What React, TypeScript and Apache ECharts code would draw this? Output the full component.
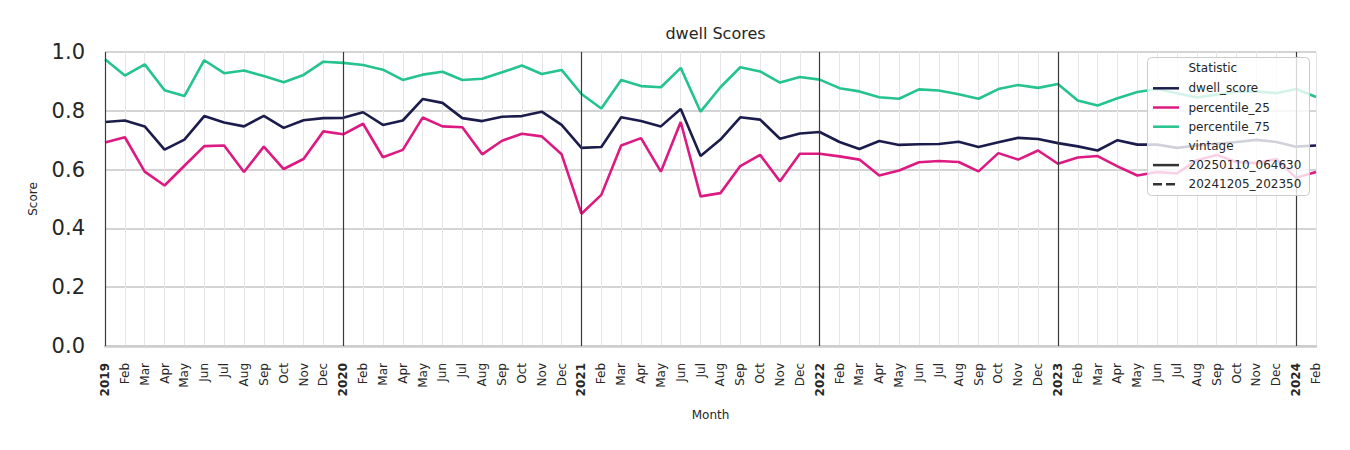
import React, { useEffect, useRef } from "react";
import * as echarts from "echarts";

const months = [
  "2019-01","2019-02","2019-03","2019-04","2019-05","2019-06","2019-07","2019-08","2019-09","2019-10","2019-11","2019-12",
  "2020-01","2020-02","2020-03","2020-04","2020-05","2020-06","2020-07","2020-08","2020-09","2020-10","2020-11","2020-12",
  "2021-01","2021-02","2021-03","2021-04","2021-05","2021-06","2021-07","2021-08","2021-09","2021-10","2021-11","2021-12",
  "2022-01","2022-02","2022-03","2022-04","2022-05","2022-06","2022-07","2022-08","2022-09","2022-10","2022-11","2022-12",
  "2023-01","2023-02","2023-03","2023-04","2023-05","2023-06","2023-07","2023-08","2023-09","2023-10","2023-11","2023-12",
  "2024-01","2024-02",
];

const tickLabels = [
  "2019","Feb","Mar","Apr","May","Jun","Jul","Aug","Sep","Oct","Nov","Dec",
  "2020","Feb","Mar","Apr","May","Jun","Jul","Aug","Sep","Oct","Nov","Dec",
  "2021","Feb","Mar","Apr","May","Jun","Jul","Aug","Sep","Oct","Nov","Dec",
  "2022","Feb","Mar","Apr","May","Jun","Jul","Aug","Sep","Oct","Nov","Dec",
  "2023","Feb","Mar","Apr","May","Jun","Jul","Aug","Sep","Oct","Nov","Dec",
  "2024","Feb",
];

const yearIndices = [0, 12, 24, 36, 48, 60];

const dwellScore = [
  0.762,0.767,0.747,0.668,0.702,0.782,0.760,0.747,0.783,0.742,0.768,0.775,
  0.776,0.795,0.752,0.767,0.840,0.827,0.775,0.765,0.780,0.782,0.797,0.752,
  0.674,0.677,0.778,0.765,0.747,0.806,0.646,0.702,0.778,0.770,0.705,0.723,
  0.728,0.694,0.670,0.697,0.684,0.686,0.687,0.695,0.677,0.693,0.708,0.704,
  0.690,0.679,0.665,0.700,0.685,0.685,0.674,0.682,0.688,0.694,0.701,0.694,
  0.678,0.682,
];

const percentile25 = [
  0.692,0.710,0.593,0.546,0.613,0.680,0.682,0.592,0.678,0.602,0.636,0.730,
  0.720,0.756,0.642,0.667,0.777,0.747,0.744,0.652,0.698,0.722,0.713,0.652,
  0.450,0.514,0.682,0.707,0.593,0.762,0.509,0.520,0.612,0.650,0.560,0.654,
  0.654,0.645,0.634,0.580,0.597,0.625,0.629,0.626,0.594,0.656,0.634,0.665,
  0.620,0.641,0.646,0.611,0.580,0.592,0.587,0.632,0.650,0.626,0.622,0.636,
  0.572,0.592,
];

const percentile75 = [
  0.975,0.920,0.958,0.870,0.850,0.972,0.928,0.937,0.918,0.897,0.922,0.967,
  0.963,0.956,0.940,0.905,0.923,0.933,0.905,0.909,0.931,0.954,0.925,0.939,
  0.857,0.808,0.905,0.884,0.880,0.946,0.797,0.880,0.948,0.934,0.896,0.915,
  0.906,0.877,0.866,0.846,0.841,0.873,0.869,0.856,0.841,0.874,0.888,0.878,
  0.891,0.835,0.818,0.843,0.864,0.874,0.860,0.845,0.855,0.865,0.866,0.860,
  0.874,0.847,
];

const statNames = ["dwell_score", "percentile_25", "percentile_75"];
const statColors = ["#1c1c4c", "#dd1a82", "#25c38e"];
const vintageNames = ["20250110_064630", "20241205_202350"];

const FONT = "DejaVu Sans";

export default function App() {
  const ref = useRef<HTMLDivElement>(null);

  useEffect(() => {
    document.body.style.margin = "0";
    if (!ref.current) return;
    const chart = echarts.init(ref.current, undefined, { renderer: "svg" });

    const lx = 1153;
    const tx = 1188.5;
    const rowY = [68.3, 88.3, 107.5, 126.7, 145.9, 165.1, 184.3];
    const legendEls: any[] = [
      {
        type: "rect",
        shape: { x: 1147.5, y: 57.5, width: 162, height: 138, r: 4 },
        style: { fill: "rgba(255,255,255,0.8)", stroke: "#cccccc", lineWidth: 1 },
        z: 100,
      },
      {
        type: "text",
        x: tx,
        y: rowY[0],
        style: { text: "Statistic", fill: "#262626", font: `12px "${FONT}"`, verticalAlign: "middle" },
        z: 101,
      },
    ];
    statNames.forEach((n, i) => {
      legendEls.push({
        type: "line",
        shape: { x1: lx, y1: rowY[i + 1], x2: lx + 26, y2: rowY[i + 1] },
        style: { stroke: statColors[i], lineWidth: 2.5 },
        z: 101,
      });
      legendEls.push({
        type: "text",
        x: tx,
        y: rowY[i + 1],
        style: { text: n, fill: "#262626", font: `12px "${FONT}"`, verticalAlign: "middle" },
        z: 101,
      });
    });
    legendEls.push({
      type: "text",
      x: tx,
      y: rowY[4],
      style: { text: "vintage", fill: "#262626", font: `12px "${FONT}"`, verticalAlign: "middle" },
      z: 101,
    });
    vintageNames.forEach((n, i) => {
      legendEls.push({
        type: "line",
        shape: { x1: lx, y1: rowY[5 + i], x2: lx + 26, y2: rowY[5 + i] },
        style: { stroke: "#333333", lineWidth: 2.5, lineDash: i === 1 ? [9, 4] : null },
        z: 101,
      });
      legendEls.push({
        type: "text",
        x: tx,
        y: rowY[5 + i],
        style: { text: n, fill: "#262626", font: `12px "${FONT}"`, verticalAlign: "middle" },
        z: 101,
      });
    });

    const lineSeries = (name: string, data: number[], color: string) => ({
      name,
      type: "line",
      data,
      showSymbol: false,
      symbol: "none",
      lineStyle: { color, width: 2.6 },
      itemStyle: { color },
      z: 3,
      silent: true,
    });

    chart.setOption({
      animation: false,
      textStyle: { fontFamily: FONT },
      title: {
        text: "dwell Scores",
        left: 710.5,
        top: 20,
        textAlign: "center",
        textStyle: { fontSize: 16, fontWeight: "normal", color: "#262626", fontFamily: FONT },
      },
      grid: { left: 105, right: 34, top: 52, bottom: 104, containLabel: false },
      xAxis: {
        type: "category",
        data: months,
        boundaryGap: false,
        name: "Month",
        nameLocation: "middle",
        nameGap: 63,
        nameTextStyle: { fontSize: 12, color: "#262626", fontFamily: FONT },
        axisLine: { show: true, lineStyle: { color: "#cccccc", width: 2.5 } },
        axisTick: { show: false },
        axisLabel: {
          interval: 0,
          rotate: 90,
          margin: 17,
          fontSize: 12,
          color: "#262626",
          fontFamily: FONT,
          formatter: (_v: string, idx: number) => {
            const t = tickLabels[idx];
            return yearIndices.includes(idx) ? `{yr|${t}}` : t;
          },
          rich: {
            yr: { fontWeight: "bold", fontSize: 12, color: "#262626", fontFamily: FONT },
          },
        },
        splitLine: { show: true, interval: 0, lineStyle: { color: "#e6e6e6", width: 1 } },
      },
      yAxis: {
        type: "value",
        min: 0,
        max: 1,
        interval: 0.2,
        name: "Score",
        nameLocation: "middle",
        nameGap: 66,
        nameTextStyle: { fontSize: 12, color: "#262626", fontFamily: FONT },
        axisLine: { show: false },
        axisTick: { show: false },
        axisLabel: {
          fontSize: 21,
          color: "#262626",
          margin: 20,
          fontFamily: FONT,
          formatter: (v: number) => v.toFixed(1),
        },
        splitLine: { show: true, lineStyle: { color: "#c6c6c6", width: 1.6 } },
      },
      series: [
        {
          name: "years",
          type: "line",
          data: dwellScore,
          showSymbol: false,
          symbol: "none",
          lineStyle: { opacity: 0, width: 0 },
          z: 1,
          silent: true,
          markLine: {
            silent: true,
            symbol: ["none", "none"],
            label: { show: false },
            lineStyle: { type: "solid", color: "#3a3a3a", width: 1.2 },
            data: yearIndices.map((i) => ({ xAxis: i })),
          },
        },
        lineSeries(statNames[0], dwellScore, statColors[0]),
        lineSeries(statNames[1], percentile25, statColors[1]),
        lineSeries(statNames[2], percentile75, statColors[2]),
      ],
      graphic: legendEls,
    });

    return () => chart.dispose();
  }, []);

  return <div ref={ref} style={{ width: 1350, height: 450 }} />;
}
